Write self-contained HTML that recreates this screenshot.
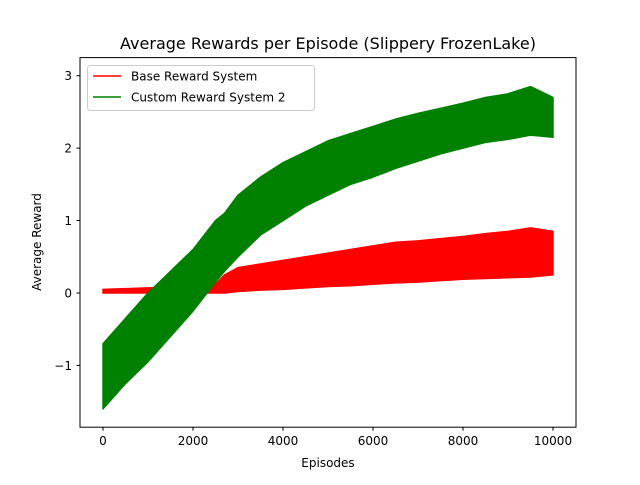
<!DOCTYPE html>
<html><head><meta charset="utf-8"><style>
body{margin:0;background:#fff;}
svg text{font-family:"DejaVu Sans","Liberation Sans",sans-serif;fill:#000;}
</style></head><body>
<svg id="chart" width="640" height="480" xmlns="http://www.w3.org/2000/svg">
<rect width="640" height="480" fill="#fff"/>
<g id="series"></g>
<rect x="80" y="57.6" width="496" height="369.6" fill="none" stroke="#000" stroke-width="1"/>
<g id="ticks"></g>
<text x="328" y="49" font-size="16" text-anchor="middle">Average Rewards per Episode (Slippery FrozenLake)</text>
<text x="328" y="467" font-size="12" text-anchor="middle">Episodes</text>
<text transform="translate(41,242) rotate(-90)" font-size="12" text-anchor="middle">Average Reward</text>
<g>
<rect x="87.5" y="65.5" width="227" height="45" rx="3" fill="#fff" fill-opacity="0.8" stroke="#ccc"/>
<g><line x1="93" y1="76" x2="121" y2="76" stroke="#ff0000" stroke-width="1.5"/><text x="131" y="80.5" font-size="12">Base Reward System</text></g>
<g><line x1="93" y1="97" x2="121" y2="97" stroke="#008000" stroke-width="1.5"/><text x="131" y="101.5" font-size="12">Custom Reward System 2</text></g>
</g>
</svg>
<script>
const episodes=[0,500,1000,1500,2000,2500,2700,3000,3500,4000,4500,5000,5500,6000,6500,7000,7500,8000,8500,9000,9500,10000];
const baseLow=[0,0,0,0,0,0,0,0.02,0.04,0.05,0.07,0.09,0.1,0.12,0.14,0.15,0.17,0.19,0.2,0.21,0.22,0.25];
const baseHigh=[0.05,0.06,0.07,0.08,0.1,0.12,0.25,0.35,0.4,0.45,0.5,0.55,0.6,0.65,0.7,0.72,0.75,0.78,0.82,0.85,0.9,0.85];
const customLow=[-1.6,-1.25,-0.95,-0.6,-0.25,0.15,0.3,0.5,0.8,1.0,1.2,1.35,1.5,1.6,1.72,1.82,1.92,2.0,2.08,2.12,2.18,2.15];
const customHigh=[-0.7,-0.35,0.0,0.3,0.6,1.0,1.1,1.35,1.6,1.8,1.95,2.1,2.2,2.3,2.4,2.48,2.55,2.62,2.7,2.75,2.85,2.7];
const xTicks=[0,2000,4000,6000,8000,10000];
const yTicks=[-1,0,1,2,3];
const yTickLabels=["\u22121","0","1","2","3"];
const X=v=>80+(v+511)*496/11022;
const Y=v=>427.2-(v+1.853)*369.6/5.103;
const NS="http://www.w3.org/2000/svg";
const g=document.getElementById('series');
function band(lo,hi,color,name){
  let pts=[];
  episodes.forEach((e,i)=>pts.push(X(e)+','+Y(hi[i])));
  for(let i=episodes.length-1;i>=0;i--)pts.push(X(episodes[i])+','+Y(lo[i]));
  const p=document.createElementNS(NS,'polygon');
  p.setAttribute('points',pts.join(' '));
  p.setAttribute('fill',color);p.setAttribute('stroke',color);p.setAttribute('stroke-width','1.5');p.setAttribute('stroke-linejoin','round');
  
  
  g.appendChild(p);
}
band(baseLow,baseHigh,'#ff0000','base-reward-series');
band(customLow,customHigh,'#008000','custom-reward-series');
const t=document.getElementById('ticks');
xTicks.forEach(v=>{
  const l=document.createElementNS(NS,'line');
  l.setAttribute('x1',X(v));l.setAttribute('x2',X(v));l.setAttribute('y1',427.2);l.setAttribute('y2',430.7);l.setAttribute('stroke','#000');
  
  
  t.appendChild(l);
  const tx=document.createElementNS(NS,'text');
  tx.setAttribute('x',X(v));tx.setAttribute('y',445);tx.setAttribute('font-size','12');tx.setAttribute('text-anchor','middle');
  tx.textContent=v;
  
  
  t.appendChild(tx);
});
yTicks.forEach((v,i)=>{
  const l=document.createElementNS(NS,'line');
  l.setAttribute('x1',76.5);l.setAttribute('x2',80);l.setAttribute('y1',Y(v));l.setAttribute('y2',Y(v));l.setAttribute('stroke','#000');
  
  
  t.appendChild(l);
  const tx=document.createElementNS(NS,'text');
  tx.setAttribute('x',72);tx.setAttribute('y',Y(v)+4.5);tx.setAttribute('font-size','12');tx.setAttribute('text-anchor','end');
  tx.textContent=yTickLabels[i];
  
  
  t.appendChild(tx);
});
</script>
</body></html>
